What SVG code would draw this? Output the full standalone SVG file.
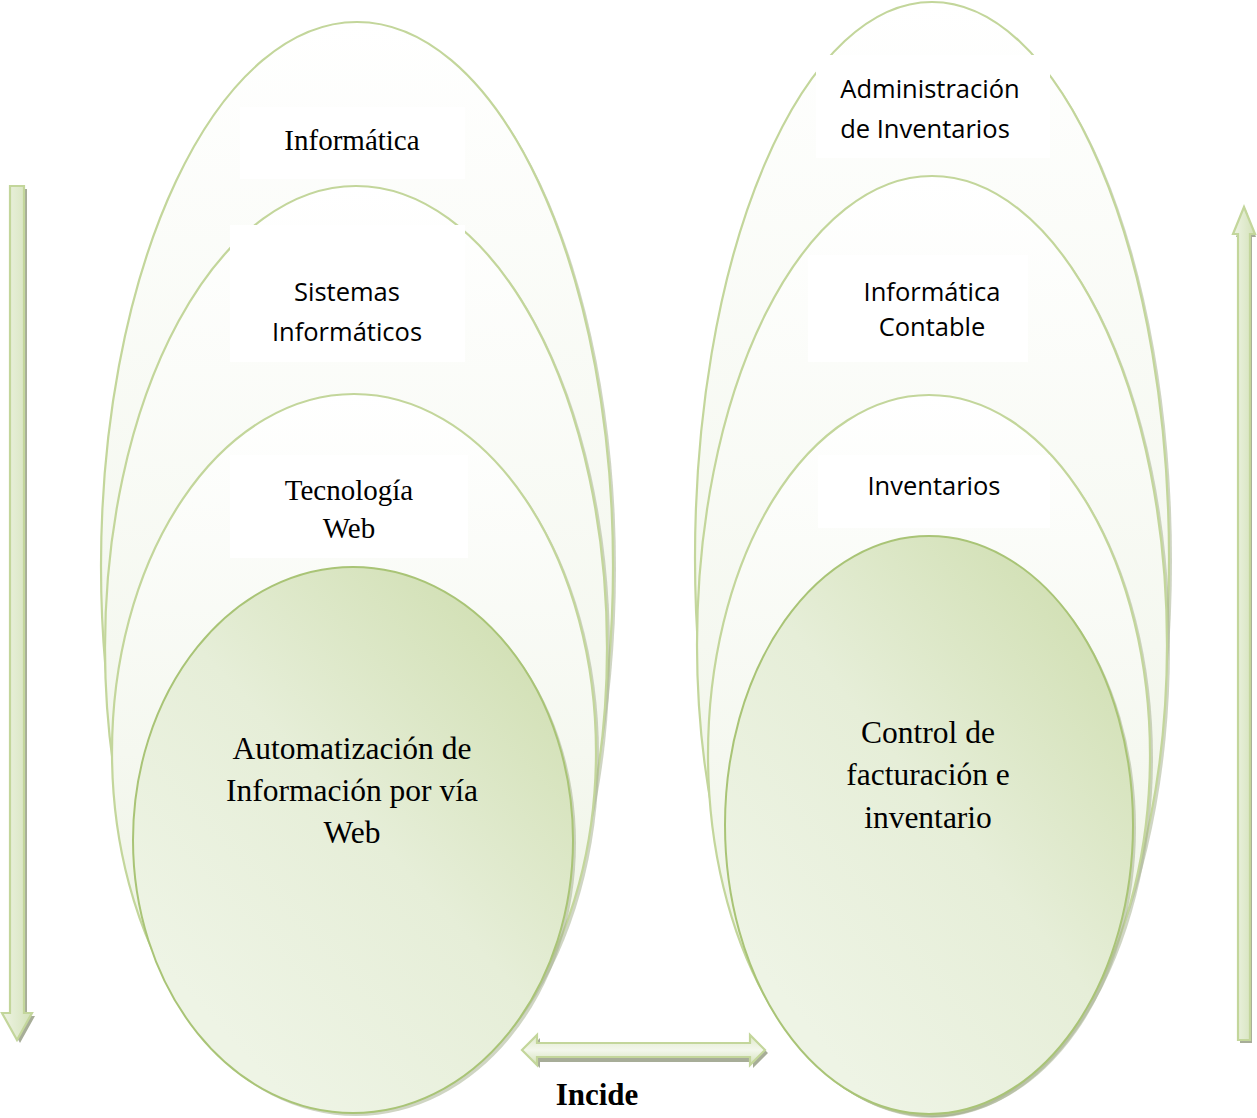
<svg xmlns="http://www.w3.org/2000/svg" width="1257" height="1118" viewBox="0 0 1257 1118">
<defs>
  <linearGradient id="gOuter" x1="0" y1="0" x2="0" y2="1">
    <stop offset="0" stop-color="#ffffff"/>
    <stop offset="0.5" stop-color="#f5f8f0"/>
    <stop offset="1" stop-color="#e9f0dc"/>
  </linearGradient>
  <linearGradient id="gInner" x1="0.85" y1="0.1" x2="0.2" y2="0.85">
    <stop offset="0" stop-color="#d2e0b5"/>
    <stop offset="0.5" stop-color="#e6eed8"/>
    <stop offset="1" stop-color="#eef4e5"/>
  </linearGradient>
  <linearGradient id="gArrowV" x1="0" y1="0" x2="1" y2="0">
    <stop offset="0" stop-color="#eef3e3"/>
    <stop offset="0.5" stop-color="#e1ebcf"/>
    <stop offset="1" stop-color="#d3e1b8"/>
  </linearGradient>
  <linearGradient id="gArrowH" x1="0" y1="0" x2="0" y2="1">
    <stop offset="0" stop-color="#dfe9cb"/>
    <stop offset="0.5" stop-color="#f3f7ec"/>
    <stop offset="1" stop-color="#d3e1b8"/>
  </linearGradient>
</defs>
<style>
  .outer { fill: url(#gOuter); stroke: #c3d69b; stroke-width: 2.2; }
  .inner { fill: url(#gInner); stroke: #a9c476; stroke-width: 2; }
  .shadow { fill: #a8b391; opacity: 0.55; }
  .box { fill: #ffffff; }
  .serif { font-family: "Liberation Serif", "Times New Roman", serif; fill: #000; text-anchor: middle; }
  .sans { font-family: "Open Sans", "Liberation Sans", sans-serif; fill: #000; text-anchor: middle; font-size: 25.5px; }
  .arrow { fill: url(#gArrowV); stroke: #c3d69b; stroke-width: 2.2; }
  .arrowH { fill: url(#gArrowH); stroke: #c3d69b; stroke-width: 2.2; }
  .ashadow { fill: #a7ad98; }
</style>
<rect width="1257" height="1118" fill="#ffffff"/>

<g id="left-informatica">
  <ellipse class="shadow" cx="360" cy="569" rx="256" ry="544"/>
  <ellipse class="outer" cx="357" cy="566" rx="256" ry="544"/>
  <rect class="box" x="240" y="107" width="225" height="72"/>
  <text class="serif" x="352" y="150" font-size="29">Informática</text>
</g>
<g id="left-sistemas">
  <ellipse class="shadow" cx="359" cy="651" rx="251" ry="462"/>
  <ellipse class="outer" cx="356" cy="648" rx="251" ry="462"/>
  <rect class="box" x="230" y="225" width="235" height="137"/>
  <text class="sans" x="347" y="301">Sistemas</text>
  <text class="sans" x="347" y="341">Informáticos</text>
</g>
<g id="left-tecnologia">
  <ellipse class="shadow" cx="357" cy="755" rx="242" ry="358"/>
  <ellipse class="outer" cx="354" cy="752" rx="242" ry="358"/>
  <rect class="box" x="230" y="455" width="238" height="103"/>
  <text class="serif" x="349" y="500" font-size="29">Tecnología</text>
  <text class="serif" x="349" y="538" font-size="29">Web</text>
</g>
<g id="left-automatizacion">
  <ellipse class="shadow" cx="356" cy="843" rx="220" ry="273"/>
  <ellipse class="inner" cx="353" cy="840" rx="220" ry="273"/>
  <text class="serif" x="352" y="759" font-size="31.5">Automatización de</text>
  <text class="serif" x="352" y="801" font-size="31.5">Información por vía</text>
  <text class="serif" x="352" y="843" font-size="31.5">Web</text>
</g>

<g id="right-administracion">
  <ellipse class="shadow" cx="935" cy="561" rx="237" ry="556"/>
  <ellipse class="outer" cx="932" cy="558" rx="237" ry="556"/>
  <rect class="box" x="816" y="55" width="234" height="103"/>
  <text class="sans" x="930" y="98">Administración</text>
  <text class="sans" x="925" y="138">de Inventarios</text>
</g>
<g id="right-informatica-contable">
  <ellipse class="shadow" cx="935" cy="648" rx="235" ry="469"/>
  <ellipse class="outer" cx="932" cy="645" rx="235" ry="469"/>
  <rect class="box" x="808" y="255" width="220" height="107"/>
  <text class="sans" x="932" y="301">Informática</text>
  <text class="sans" x="932" y="336">Contable</text>
</g>
<g id="right-inventarios">
  <ellipse class="shadow" cx="932" cy="758" rx="221" ry="360"/>
  <ellipse class="outer" cx="929" cy="755" rx="221" ry="360"/>
  <rect class="box" x="818" y="455" width="232" height="73"/>
  <text class="sans" x="934" y="495">Inventarios</text>
</g>
<g id="right-control">
  <ellipse class="shadow" cx="932" cy="828" rx="204" ry="289"/>
  <ellipse class="inner" cx="929" cy="825" rx="204" ry="289"/>
  <text class="serif" x="928" y="743" font-size="31.5">Control de</text>
  <text class="serif" x="928" y="785" font-size="31.5">facturación e</text>
  <text class="serif" x="928" y="828" font-size="31.5">inventario</text>
</g>

<g id="connectors">
  <g id="arrow-down">
    <path class="ashadow" d="M13,189 H27 V1016 H35 L20,1043 L5,1016 H13 Z"/>
    <path class="arrow" d="M10,186 H24 V1013 H32 L17,1040 L2,1013 H10 Z"/>
  </g>
  <g id="arrow-up">
    <path class="ashadow" d="M1240,1043 V237 H1236 L1246,210 L1256,237 H1252 V1043 Z"/>
    <path class="arrow" d="M1238,1040 V234 H1233 L1244,207 L1255,234 H1250 V1040 Z"/>
  </g>
  <g id="arrow-both">
    <path class="ashadow" d="M525,1053 L540,1038 V1046 H753 V1038 L768,1053 L753,1068 V1062 H540 V1068 Z"/>
    <path class="arrowH" d="M522,1050 L537,1035 V1043 H750 V1035 L765,1050 L750,1065 V1057 H537 V1065 Z"/>
  </g>
  <text x="597" y="1105" font-family="Liberation Serif, Times New Roman, serif" font-size="31" font-weight="bold" text-anchor="middle" fill="#000">Incide</text>
</g>
</svg>
